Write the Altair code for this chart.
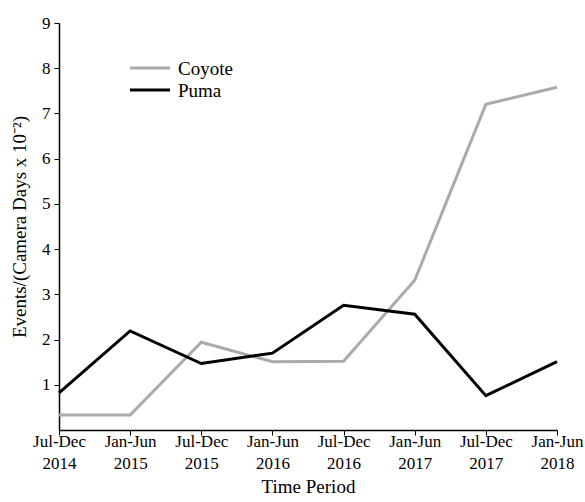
import altair as alt
import pandas as pd

periods = ["Jul-Dec 2014", "Jan-Jun 2015", "Jul-Dec 2015", "Jan-Jun 2016",
           "Jul-Dec 2016", "Jan-Jun 2017", "Jul-Dec 2017", "Jan-Jun 2018"]
coyote = [0.33, 0.33, 1.94, 1.51, 1.52, 3.31, 7.20, 7.58]
puma = [0.82, 2.19, 1.47, 1.70, 2.76, 2.56, 0.76, 1.51]
species = ["Coyote", "Puma"]
colors = ["#aaaaaa", "#000000"]

rows = []
for p, c, m in zip(periods, coyote, puma):
    rows.append({"period": p, "species": "Coyote", "value": c})
    rows.append({"period": p, "species": "Puma", "value": m})
df = pd.DataFrame(rows)
legend_df = pd.DataFrame({"species": species})

FONT = "Liberation Serif"
color_scale = alt.Scale(domain=species, range=colors)

lines = alt.Chart(df).mark_line(strokeWidth=3).encode(
    x=alt.X("period:N", sort=periods,
            scale=alt.Scale(type="point", padding=0),
            axis=alt.Axis(title="Time Period", labelAngle=0,
                          labelExpr="split(datum.label, ' ')",
                          labelLineHeight=22, labelPadding=-2,
                          titlePadding=6, tickSize=5)),
    y=alt.Y("value:Q", scale=alt.Scale(domain=[0, 9], nice=False),
            axis=alt.Axis(title="Events/(Camera Days x 10⁻²)",
                          values=[1, 2, 3, 4, 5, 6, 7, 8, 9],
                          tickSize=5, labelPadding=4, titlePadding=12)),
    color=alt.Color("species:N", scale=color_scale, legend=None),
    detail="species:N",
)

leg_y = alt.Y("species:N", scale=alt.Scale(type="point", padding=0,
                                           domain=species, range=[45, 67]), axis=None)

leg_rules = alt.Chart(legend_df).mark_rule(strokeWidth=3).encode(
    x=alt.value(71), x2=alt.value(111), y=leg_y,
    color=alt.Color("species:N", scale=color_scale, legend=None),
)
leg_text = alt.Chart(legend_df).mark_text(
    align="left", baseline="middle", font=FONT, fontSize=19, color="#000000", dy=1
).encode(x=alt.value(119), y=leg_y, text="species:N")

chart = alt.layer(lines, leg_rules, leg_text).resolve_scale(
    y="independent"
).properties(
    width=498, height=407,
    padding={"left": 59, "top": 23, "right": 28, "bottom": 72},
    autosize=alt.AutoSizeParams(type="none"),
    background="#ffffff",
).configure_view(stroke=None).configure_axis(
    grid=False, domainColor="#000000", domainWidth=1.5, tickColor="#000000",
    labelFont=FONT, titleFont=FONT, labelFontSize=17, titleFontSize=19,
    labelColor="#000000", titleColor="#000000", titleFontWeight="normal",
)

chart.save("out.html", embed_options={"renderer": "svg", "actions": False})
